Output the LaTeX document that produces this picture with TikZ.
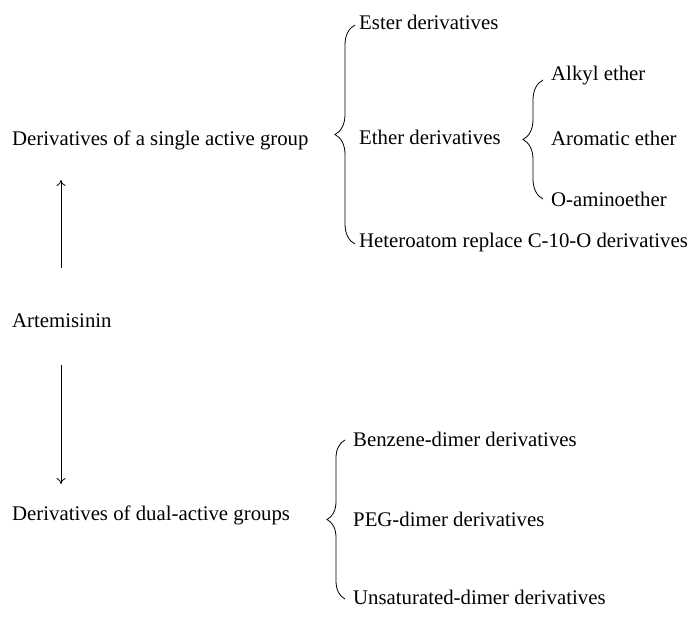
\documentclass[tikz,border=0pt]{standalone}
\usepackage{fontspec}
\setmainfont{Liberation Serif}
\usetikzlibrary{decorations.pathreplacing,arrows.meta}
\begin{document}
\begin{tikzpicture}[x=1pt,y=-1pt,
  lbl/.style={anchor=base west,inner sep=0pt,font=\fontsize{20.8}{24}\selectfont},
  curly/.style={decorate,decoration={brace,amplitude=#1},line width=0.8pt},
  curly/.default=20pt,
  link/.style={line width=0.8pt,-{To[length=6pt,width=9pt]}}]
  \useasboundingbox (0,0) rectangle (694,618);
  % main column
  \node[lbl] (single) at (12,146) {Derivatives of a single active group};
  \node[lbl] (art) at (12,327) {Artemisinin};
  \node[lbl] (dual) at (12,520) {Derivatives of dual-active groups};
  % arrows leaving the parent compound
  \coordinate (upS) at (61,268);
  \coordinate (upE) at (61,180);
  \coordinate (dnS) at (61,365);
  \coordinate (dnE) at (61,484);
  \draw[link] (upS) -- (upE);
  \draw[link] (dnS) -- (dnE);
  % single active group branches
  \node[lbl] (ester) at (359,30) {Ester derivatives};
  \node[lbl] (ether) at (359,144) {Ether derivatives};
  \node[lbl] (hetero) at (359,247) {Heteroatom replace C-10-O derivatives};
  \draw[curly] (355,244) -- (355,25);
  % ether sub-branches
  \node[lbl] (alkyl) at (551,81) {Alkyl ether};
  \node[lbl] (arom) at (551,145) {Aromatic ether};
  \node[lbl] (amino) at (551,206) {O-aminoether};
  \draw[curly] (543,199) -- (543,80);
  % dual-active group branches
  \node[lbl] (benz) at (353,446) {Benzene-dimer derivatives};
  \node[lbl] (peg) at (353,526) {PEG-dimer derivatives};
  \node[lbl] (unsat) at (353,604) {Unsaturated-dimer derivatives};
  \draw[curly=18pt] (345,599) -- (345,440);
\end{tikzpicture}
\end{document}
